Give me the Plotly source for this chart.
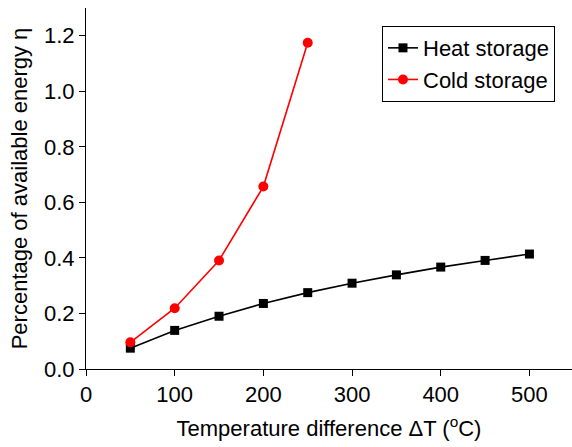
import plotly.graph_objects as go

heat_x = [50, 100, 150, 200, 250, 300, 350, 400, 450, 500]
heat_y = [0.075, 0.139, 0.190, 0.236, 0.275, 0.309, 0.339, 0.367, 0.391, 0.414]
cold_x = [50, 100, 150, 200, 250]
cold_y = [0.096, 0.219, 0.391, 0.657, 1.175]

x_ticks = [0, 100, 200, 300, 400, 500]
y_ticks = [0.0, 0.2, 0.4, 0.6, 0.8, 1.0, 1.2]
y_ticktext = ["0.0", "0.2", "0.4", "0.6", "0.8", "1.0", "1.2"]

FONT = "Liberation Sans, Arial, sans-serif"
FS = 22

fig = go.Figure()
fig.add_trace(go.Scatter(x=heat_x, y=heat_y, mode="lines+markers", name="Heat storage",
                         line=dict(color="black", width=1.6),
                         marker=dict(symbol="square", size=9, color="black")))
fig.add_trace(go.Scatter(x=cold_x, y=cold_y, mode="lines+markers", name="Cold storage",
                         line=dict(color="#ff0000", width=1.6),
                         marker=dict(symbol="circle", size=10, color="#ff0000")))

fig.update_layout(
    width=572, height=447,
    margin=dict(l=86, r=0, t=8, b=78),
    paper_bgcolor="white", plot_bgcolor="white",
    font=dict(family=FONT, size=FS, color="black"),
    showlegend=True,
    legend=dict(x=0.965, y=0.95, xanchor="right", yanchor="top",
                bordercolor="black", borderwidth=1, bgcolor="white",
                font=dict(size=FS, family=FONT), tracegroupgap=0),
    xaxis=dict(range=[0, 548], tickvals=x_ticks, ticks="outside", ticklen=6,
               tickwidth=1, tickcolor="black", showline=True, linecolor="black",
               linewidth=1, showgrid=False, zeroline=False,
               tickfont=dict(size=FS, family=FONT),
               title=dict(text="Temperature difference \u0394T (<sup>o</sup>C)",
                          font=dict(size=FS, family=FONT), standoff=14)),
    yaxis=dict(range=[0, 1.3], tickvals=y_ticks, ticktext=y_ticktext, ticks="outside",
               ticklen=6, tickwidth=1, tickcolor="black", showline=True,
               linecolor="black", linewidth=1, showgrid=False, zeroline=False,
               tickfont=dict(size=FS, family=FONT),
               title=dict(text="Percentage of available energy \u03b7",
                          font=dict(size=FS, family=FONT), standoff=10)),
)

fig.write_html("out.html")
